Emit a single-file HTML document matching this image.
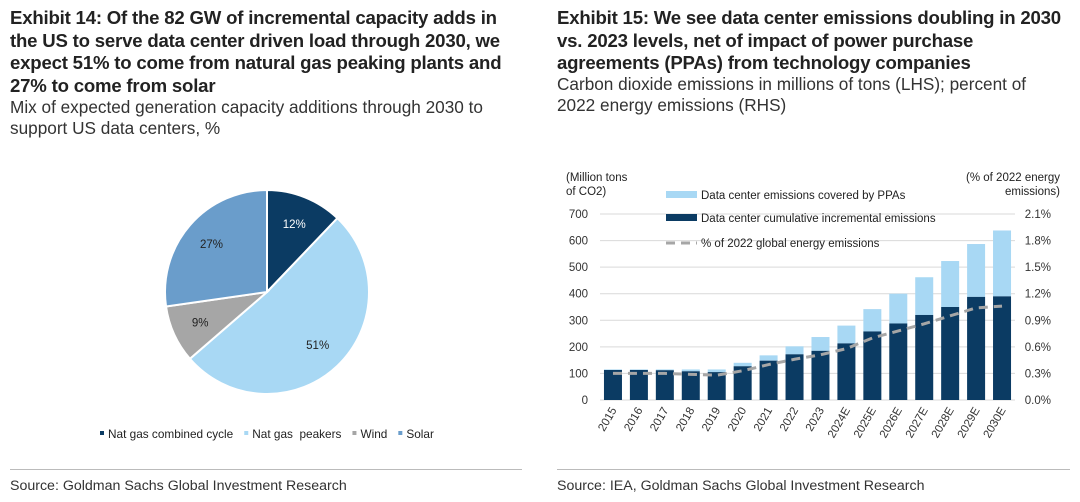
<!DOCTYPE html>
<html><head><meta charset="utf-8">
<style>
body{margin:0;width:1080px;height:502px;background:#fff;font-family:"Liberation Sans",sans-serif;color:#222;position:relative;overflow:hidden}
.t{position:absolute;font-weight:bold;font-size:18.6px;line-height:22.5px;white-space:nowrap;letter-spacing:-0.2px}
.s{position:absolute;font-size:17.2px;line-height:21px;white-space:nowrap;color:#333}
.src{position:absolute;top:478px;font-size:14.2px;color:#333;white-space:nowrap}
.rule{position:absolute;top:469px;height:1px;background:#bbb}
</style></head><body>
<div class="t" style="left:10px;top:7px">Exhibit 14: Of the 82 GW of incremental capacity adds in<br>the US to serve data center driven load through 2030, we<br>expect 51% to come from natural gas peaking plants and<br>27% to come from solar</div>
<div class="s" style="left:10px;top:97px">Mix of expected generation capacity additions through 2030 to<br>support US data centers, %</div>
<div class="t" style="left:557px;top:7px">Exhibit 15: We see data center emissions doubling in 2030<br>vs. 2023 levels, net of impact of power purchase<br>agreements (PPAs) from technology companies</div>
<div class="s" style="left:557px;top:74px">Carbon dioxide emissions in millions of tons (LHS); percent of<br>2022 energy emissions (RHS)</div>
<div class="rule" style="left:10px;width:512px"></div>
<div class="rule" style="left:557px;width:513px"></div>
<div class="src" style="left:10px">Source: Goldman Sachs Global Investment Research</div>
<div class="src" style="left:557px">Source: IEA, Goldman Sachs Global Investment Research</div>

<svg id="pie" width="540" height="460" style="position:absolute;left:0;top:0" font-family="Liberation Sans, sans-serif"></svg>
<svg id="bar" width="540" height="460" style="position:absolute;left:540px;top:0" font-family="Liberation Sans, sans-serif"></svg>

<script>
const pieLabels=["Nat gas combined cycle","Nat gas  peakers","Wind","Solar"];
const pieValues=[12,51,9,27];
const pieColors=["#0b3b63","#a8d8f4","#a6a6a6","#6a9dcb"];
const years=["2015","2016","2017","2018","2019","2020","2021","2022","2023","2024E","2025E","2026E","2027E","2028E","2029E","2030E"];
const totalEm=[115,115,115,115,115,140,168,202,237,280,342,400,462,523,587,638];
const cumEm=[113,113,112,108,105,127,148,172,185,213,258,288,320,350,388,390];
const pctEm=[0.30,0.30,0.30,0.29,0.28,0.33,0.40,0.46,0.51,0.58,0.70,0.78,0.86,0.95,1.04,1.06];
const leftTicks=[0,100,200,300,400,500,600,700];
const rightTicks=["0.0%","0.3%","0.6%","0.9%","1.2%","1.5%","1.8%","2.1%"];
const NS="http://www.w3.org/2000/svg";
function mk(p,tag,a,txt){const e=document.createElementNS(NS,tag);for(const k in a)e.setAttribute(k,a[k]);if(txt!==undefined)e.textContent=txt;p.appendChild(e);return e;}

// Pie
const pie=document.getElementById('pie');
const cx=267,cy=292,R=102;
let tot=pieValues.reduce((a,b)=>a+b,0),ang=0;
pieValues.forEach((v,i)=>{
  const a0=ang,a1=ang+v/tot*2*Math.PI;ang=a1;
  const x0=cx+R*Math.sin(a0),y0=cy-R*Math.cos(a0),x1=cx+R*Math.sin(a1),y1=cy-R*Math.cos(a1);
  const p=mk(pie,'path',{d:`M${cx},${cy}L${x0},${y0}A${R},${R} 0 ${a1-a0>Math.PI?1:0} 1 ${x1},${y1}Z`,fill:pieColors[i],stroke:'#fff','stroke-width':2});
  
  
  const am=(a0+a1)/2,lr=R*0.72;
  const t=mk(pie,'text',{x:cx+lr*Math.sin(am),y:cy-lr*Math.cos(am)+4,'text-anchor':'middle','font-size':11.5,fill:i==0?'#fff':'#222'},v+'%');
  
  
});
let lx=100;
pieLabels.forEach((l,i)=>{
  const g=mk(pie,'g',{});
  
  
  mk(g,'rect',{x:lx,y:431,width:4,height:4,fill:pieColors[i]});
  const t=mk(g,'text',{x:lx+8,y:438,'font-size':11.8,fill:'#222',style:'white-space:pre'},l);
  lx+=t.getComputedTextLength()+19;
});

// Bar chart
const bar=document.getElementById('bar');
const X0=60,X1=475,Y0=400,Y1=214;
const yS=v=>Y0-(v/700)*(Y0-Y1);
const step=(X1-X0)/years.length;
const xC=i=>X0+step*(i+0.5);
leftTicks.forEach((v,i)=>{
  mk(bar,'line',{x1:X0,x2:X1,y1:yS(v),y2:yS(v),stroke:'#d9d9d9','stroke-width':1});
  const t=mk(bar,'text',{x:48,y:yS(v)+4,'text-anchor':'end','font-size':11.5,fill:'#333'},v);
  
  
  const r=mk(bar,'text',{x:511,y:yS(v)+4,'text-anchor':'end','font-size':11.5,fill:'#333'},rightTicks[i]);
  
  
});
const bw=18;
years.forEach((y,i)=>{
  const a=mk(bar,'rect',{x:xC(i)-bw/2,y:yS(totalEm[i]),width:bw,height:yS(cumEm[i])-yS(totalEm[i]),fill:'#a8d8f4'});
  
  
  const b=mk(bar,'rect',{x:xC(i)-bw/2,y:yS(cumEm[i]),width:bw,height:Y0-yS(cumEm[i]),fill:'#0b3b63'});
  
  
  const t=mk(bar,'text',{x:0,y:0,'text-anchor':'end','font-size':11.5,fill:'#333',transform:`translate(${xC(i)+4},${Y0+10}) rotate(-60)`},y);
  
  
});
const pts=pctEm.map((v,i)=>xC(i)+','+yS(v/2.1*700)).join(' ');
const pl=mk(bar,'polyline',{points:pts,fill:'none',stroke:'#a6a6a6','stroke-width':3,'stroke-dasharray':'9,6'});


const ax=mk(bar,'text',{x:25,y:181,'font-size':11.5,fill:'#222'});


mk(ax,'tspan',{x:26,dy:0},'(Million tons');mk(ax,'tspan',{x:26,dy:14},'of CO2)');
const ar=mk(bar,'text',{x:520,y:181,'font-size':11.5,fill:'#222','text-anchor':'end'});


mk(ar,'tspan',{x:520,dy:0},'(% of 2022 energy');mk(ar,'tspan',{x:520,dy:14},'emissions)');
const legs=[["Data center emissions covered by PPAs",'#a8d8f4',195,'rect'],["Data center cumulative incremental emissions",'#0b3b63',218,'rect'],["% of 2022 global energy emissions",'#a6a6a6',243,'line']];
legs.forEach((l,i)=>{
  const g=mk(bar,'g',{});
  
  
  if(l[3]=='rect')mk(g,'rect',{x:126,y:l[2]-4,width:31,height:7,fill:l[1]});
  else mk(g,'line',{x1:126,x2:157,y1:l[2],y2:l[2],stroke:l[1],'stroke-width':3,'stroke-dasharray':'9,6'});
  mk(g,'text',{x:161,y:l[2]+4,'font-size':11.5,fill:'#222'},l[0]);
});
</script>
</body></html>
